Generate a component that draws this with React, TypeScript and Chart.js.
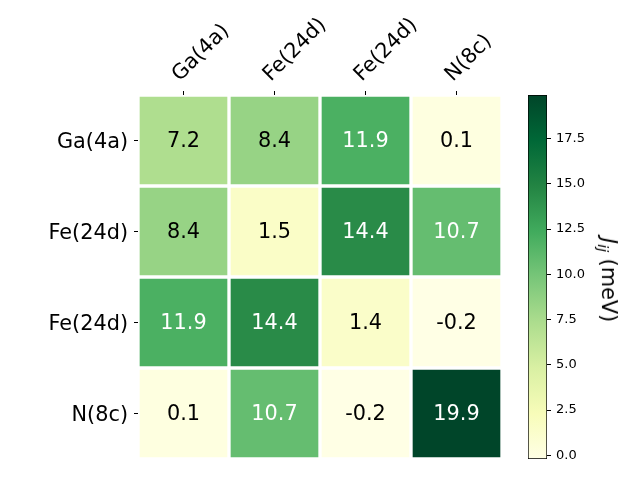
import React, { useEffect, useRef } from "react";
import { Chart, registerables } from "chart.js";
Chart.register(...registerables);

const rowLabels = ["Ga(4a)", "Fe(24d)", "Fe(24d)", "N(8c)"];
const colLabels = ["Ga(4a)", "Fe(24d)", "Fe(24d)", "N(8c)"];
const rowGa = [7.2, 8.4, 11.9, 0.1];
const rowFeA = [8.4, 1.5, 14.4, 10.7];
const rowFeB = [11.9, 14.4, 1.4, -0.2];
const rowN = [0.1, 10.7, -0.2, 19.9];
const values = [rowGa, rowFeA, rowFeB, rowN];
const vMin = -0.2;
const vMax = 19.9;
const colorbarStep = 2.5;
const ylgn = ["#ffffe5", "#f7fcb9", "#d9f0a3", "#addd8e", "#78c679", "#41ab5d", "#238443", "#006837", "#004529"];

const FONT = '"DejaVu Sans", sans-serif';

function hexToRgb(h: string) {
  const n = parseInt(h.slice(1), 16);
  return [(n >> 16) & 255, (n >> 8) & 255, n & 255];
}
function cmap(v: number) {
  let t = (v - vMin) / (vMax - vMin);
  t = Math.max(0, Math.min(1, t));
  const pos = t * (ylgn.length - 1);
  const i = Math.min(Math.floor(pos), ylgn.length - 2);
  const f = pos - i;
  const a = hexToRgb(ylgn[i]);
  const b = hexToRgb(ylgn[i + 1]);
  const c = a.map((x, k) => Math.round(x + (b[k] - x) * f));
  return `rgb(${c[0]},${c[1]},${c[2]})`;
}

const annotatePlugin = {
  id: "annotate",
  afterDatasetsDraw(chart: any) {
    const ctx = chart.ctx;
    ctx.save();
    ctx.font = `20.8px ${FONT}`;
    ctx.textAlign = "center";
    ctx.textBaseline = "middle";
    chart.data.datasets.forEach((_ds: any, r: number) => {
      const meta = chart.getDatasetMeta(r);
      meta.data.forEach((bar: any, c: number) => {
        const v = values[r][c];
        const p = bar.getProps(["x", "y", "base"], true);
        ctx.fillStyle = v >= 10 ? "#ffffff" : "#000000";
        ctx.fillText(v.toFixed(1), p.x, (p.y + p.base) / 2 + 1);
      });
    });
    ctx.restore();
  },
};

export default function App() {
  const mainRef = useRef<HTMLCanvasElement>(null);
  const cbRef = useRef<HTMLCanvasElement>(null);

  useEffect(() => {
    const datasets = values.map((row, r) => ({
      label: rowLabels[r],
      data: row.map(() => [r - 0.5, r + 0.5]),
      backgroundColor: row.map((v) => cmap(v)),
      borderColor: "#ffffff",
      borderWidth: 2,
      borderSkipped: false,
      grouped: false,
      barPercentage: 1,
      categoryPercentage: 1,
    }));
    const main = new Chart(mainRef.current!, {
      type: "bar",
      data: { labels: colLabels, datasets: datasets as any },
      plugins: [annotatePlugin],
      options: {
        animation: false,
        responsive: false,
        layout: { padding: { left: 0, top: 0, right: 138, bottom: 21 } },
        plugins: { legend: { display: false }, tooltip: { enabled: false } },
        scales: {
          x: {
            type: "category",
            position: "top",
            offset: true,
            afterFit: (s: any) => { s.height = 95; },
            grid: { offset: false, drawOnChartArea: false, drawTicks: true, tickLength: 4, color: "#000", lineWidth: 1 },
            border: { display: false },
            ticks: {
              color: "#000",
              font: { family: FONT, size: 20.8 },
              minRotation: 45,
              maxRotation: 45,
              autoSkip: false,
              padding: 4,
              labelOffset: 10,
            },
          },
          y: {
            type: "linear",
            reverse: true,
            min: -0.5,
            max: 3.5,
            afterFit: (s: any) => { s.width = 138; },
            afterBuildTicks: (s: any) => {
              s.ticks = rowLabels.map((_l, i) => ({ value: i }));
            },
            grid: { drawOnChartArea: false, drawTicks: true, tickLength: 4, color: "#000", lineWidth: 1 },
            border: { display: false },
            ticks: {
              autoSkip: false,
              color: "#000",
              font: { family: FONT, size: 20.8 },
              padding: 6,
              labelOffset: 2,
              callback: (v: any) => rowLabels[Math.round(v)] ?? "",
            },
          },
        },
      },
    } as any);

    const cb = new Chart(cbRef.current!, {
      type: "bar",
      data: {
        labels: [""],
        datasets: [
          {
            data: [[vMin, vMax]],
            backgroundColor: (ctx: any) => {
              const area = ctx.chart.chartArea;
              if (!area) return ylgn[0];
              const g = ctx.chart.ctx.createLinearGradient(0, area.bottom, 0, area.top);
              ylgn.forEach((c, i) => g.addColorStop(i / (ylgn.length - 1), c));
              return g;
            },
            borderColor: "#000",
            borderWidth: 1,
            borderSkipped: false,
            barPercentage: 1,
            categoryPercentage: 1,
          },
        ],
      },
      options: {
        animation: false,
        responsive: false,
        layout: { padding: { left: 28, top: 95, right: 0, bottom: 21 } },
        plugins: { legend: { display: false }, tooltip: { enabled: false } },
        scales: {
          x: { display: false, offset: true },
          y: {
            position: "right",
            min: vMin,
            max: vMax,
            afterFit: (s: any) => { s.width = 93; },
            grid: { drawOnChartArea: false, drawTicks: true, tickLength: 4, color: "#000", lineWidth: 1 },
            border: { display: false },
            ticks: {
              stepSize: colorbarStep,
              includeBounds: false,
              color: "#000",
              font: { family: FONT, size: 13 },
              padding: 5,
              callback: (v: any) => Number(v).toFixed(1),
            },
          },
        },
      },
    } as any);

    return () => {
      main.destroy();
      cb.destroy();
    };
  }, []);

  return (
    <div style={{ position: "fixed", left: 0, top: 0, width: 640, height: 480, background: "#fff", overflow: "hidden" }}>
      <canvas ref={mainRef} width={640} height={480} style={{ position: "absolute", left: 0, top: 0 }} />
      <canvas ref={cbRef} width={140} height={480} style={{ position: "absolute", left: 500, top: 0 }} />
      <div
        style={{
          position: "absolute",
          left: 607,
          top: 280,
          transform: "translate(-50%, -50%) rotate(90deg)",
          whiteSpace: "nowrap",
          fontFamily: FONT,
          fontSize: "20.8px",
          lineHeight: 1,
          color: "#000",
        }}
      >
        <span style={{ fontStyle: "italic" }}>J</span>
        <span style={{ fontStyle: "italic", fontSize: "0.7em", verticalAlign: "-0.3em" }}>ij</span> (meV)
      </div>
    </div>
  );
}
